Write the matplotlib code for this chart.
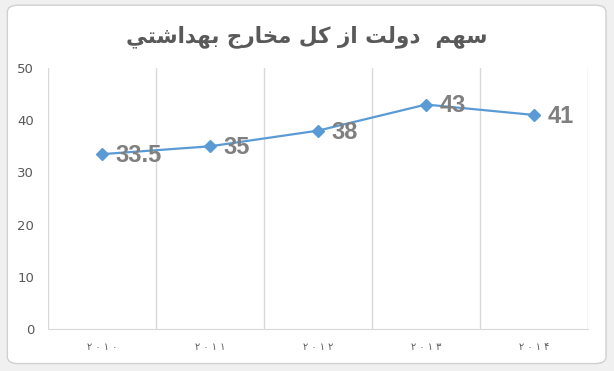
import matplotlib
matplotlib.use('Agg')
import matplotlib.pyplot as plt
from matplotlib.patches import FancyBboxPatch

# داده ها
years = ['۲ ۰ ۱ ۰', '۲ ۰ ۱ ۱', '۲ ۰ ۱ ۲', '۲ ۰ ۱ ۳', '۲ ۰ ۱ ۴']
share = [33.5, 35, 38, 43, 41]
value_labels = ['33.5', '35', '38', '43', '41']
title_text = 'سهم  دولت از کل مخارج بهداشتي'

# شکل دادن حروف عربی (matplotlib خودش این کار را نمی کند)
forms = {
    'ا': (0xFE8D, 0xFE8E, None, None),
    'ب': (0xFE8F, 0xFE90, 0xFE91, 0xFE92),
    'ت': (0xFE95, 0xFE96, 0xFE97, 0xFE98),
    'ج': (0xFE9D, 0xFE9E, 0xFE9F, 0xFEA0),
    'خ': (0xFEA5, 0xFEA6, 0xFEA7, 0xFEA8),
    'د': (0xFEA9, 0xFEAA, None, None),
    'ر': (0xFEAD, 0xFEAE, None, None),
    'ز': (0xFEAF, 0xFEB0, None, None),
    'س': (0xFEB1, 0xFEB2, 0xFEB3, 0xFEB4),
    'ش': (0xFEB5, 0xFEB6, 0xFEB7, 0xFEB8),
    'ک': (0xFED9, 0xFEDA, 0xFEDB, 0xFEDC),
    'ل': (0xFEDD, 0xFEDE, 0xFEDF, 0xFEE0),
    'م': (0xFEE1, 0xFEE2, 0xFEE3, 0xFEE4),
    'ه': (0xFEE9, 0xFEEA, 0xFEEB, 0xFEEC),
    'و': (0xFEED, 0xFEEE, None, None),
    'ي': (0xFEF1, 0xFEF2, 0xFEF3, 0xFEF4),
}


def shape(text):
    out = []
    for i, ch in enumerate(text):
        if ch not in forms:
            out.append(ch)
            continue
        prev = text[i - 1] if i > 0 else ' '
        nxt = text[i + 1] if i + 1 < len(text) else ' '
        join_prev = prev in forms and forms[prev][2] is not None
        join_next = nxt in forms and forms[ch][2] is not None
        iso, fin, ini, med = forms[ch]
        if join_prev and join_next:
            code = med
        elif join_prev:
            code = fin
        elif join_next:
            code = ini
        else:
            code = iso
        out.append(chr(code))
    return ''.join(out)[::-1]


fig = plt.figure(figsize=(6.14, 3.71), dpi=100)

# قاب دور نمودار
fig.patches.append(FancyBboxPatch((0, 0), 1, 1, boxstyle='square,pad=0',
                                  transform=fig.transFigure, facecolor='#f0f0f0',
                                  edgecolor='none', zorder=-3))
fig.patches.append(FancyBboxPatch((0.012, 0.02), 0.975, 0.966,
                                  boxstyle='round,pad=0,rounding_size=0.018',
                                  transform=fig.transFigure, facecolor='white',
                                  edgecolor='#d0d0d0', linewidth=1.0, zorder=-2))

ax = fig.add_axes([0.0782, 0.1132, 0.8795, 0.7035])
ax.set_facecolor('none')

x = list(range(len(years)))
ax.plot(x, share, color='#5b9bd5', linewidth=1.6, marker='D', markersize=6,
        markerfacecolor='#5b9bd5', markeredgecolor='#5b9bd5', zorder=3)

for xi, yi, lab in zip(x, share, value_labels):
    ax.annotate(lab, (xi, yi), xytext=(9.5, -1), textcoords='offset points',
                ha='left', va='center', fontsize=17, fontweight='bold',
                color='#7f7f7f', family='Liberation Sans', zorder=4)

ax.set_xlim(-0.5, len(years) - 0.5)
ax.set_ylim(0, 50)
ax.set_yticks(range(0, 51, 10))
ax.set_xticks(x)
ax.set_xticklabels(years, fontsize=7, color='#595959')
ax.set_xticks([i - 0.5 for i in range(len(years) + 1)], minor=True)
ax.grid(True, which='minor', axis='x', color='#d9d9d9', linewidth=1)
ax.tick_params(axis='both', which='both', length=0)
ax.tick_params(axis='y', labelsize=9.5, labelcolor='#595959', pad=10)
ax.tick_params(axis='x', pad=9)

for s in ['top', 'right', 'left']:
    ax.spines[s].set_visible(False)
ax.spines['bottom'].set_color('#d9d9d9')

fig.text(0.5, 0.9, shape(title_text), ha='center', va='center', fontsize=15.5,
         fontweight='bold', color='#595959', family='DejaVu Sans')

fig.savefig('out.png', dpi=100)
